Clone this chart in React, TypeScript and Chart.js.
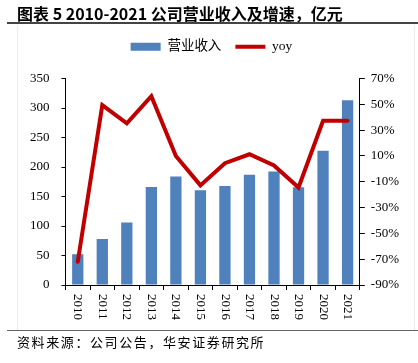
import React, { useEffect, useRef } from "react";
import { Chart, registerables } from "chart.js";

Chart.register(...registerables);

const years = ["2010", "2011", "2012", "2013", "2014", "2015", "2016", "2017", "2018", "2019", "2020", "2021"];
const revenue = [52, 78, 106, 166, 184, 160.5, 168, 187, 192.5, 165.5, 227.5, 313];
const yoy = [-72, 49.4, 35.2, 56.3, 10, -12.8, 4.4, 11.3, 2.6, -14.4, 37.3, 37.3];
const leftRange = { min: 0, max: 350, step: 50 };
const rightRange = { min: -90, max: 70, step: 20 };

const TITLE = "图表 5 2010-2021 公司营业收入及增速，亿元";
const SOURCE = "资料来源：公司公告，华安证券研究所";
const SERIES_REV = "营业收入";
const SERIES_YOY = "yoy";

const SERIF = "'Liberation Serif', 'Noto Sans CJK SC', serif";

const rotatedXLabels = {
  id: "rotatedXLabels",
  afterDraw(chart: any) {
    const scale = chart.scales.x;
    const ctx = chart.ctx;
    ctx.save();
    ctx.fillStyle = "#000";
    ctx.font = `13px ${SERIF}`;
    ctx.textAlign = "left";
    ctx.textBaseline = "middle";
    const y0 = scale.top + 9;
    scale.ticks.forEach((t: any, i: number) => {
      const x = scale.getPixelForTick(i);
      ctx.save();
      ctx.translate(x, y0);
      ctx.rotate(Math.PI / 2);
      ctx.fillText(String(chart.data.labels[i]), 0, 0);
      ctx.restore();
    });
    ctx.restore();
  },
};

const legendSpacer = {
  id: "legendSpacer",
  beforeInit(chart: any) {
    const legend = chart.legend;
    if (!legend) return;
    const orig = legend.fit;
    legend.fit = function () {
      orig.call(this);
      this.height += 15;
    };
  },
};

export default function App() {
  const ref = useRef<HTMLCanvasElement | null>(null);

  useEffect(() => {
    if (!ref.current) return;
    const chart = new Chart(ref.current, {
      type: "bar",
      data: {
        labels: years,
        datasets: [
          {
            type: "bar",
            label: SERIES_REV,
            data: revenue,
            backgroundColor: "#4F81BD",
            borderWidth: 0,
            barPercentage: 0.46,
            categoryPercentage: 1,
            yAxisID: "y",
            order: 1,
            pointStyle: "rect",
          } as any,
          {
            type: "line",
            label: SERIES_YOY,
            data: yoy,
            borderColor: "#C00000",
            backgroundColor: "#C00000",
            borderWidth: 4,
            pointRadius: 0,
            tension: 0,
            borderCapStyle: "round",
            borderJoinStyle: "miter",
            yAxisID: "y1",
            order: 0,
            pointStyle: "line",
          } as any,
        ],
      },
      options: {
        responsive: false,
        animation: false,
        devicePixelRatio: 1,
        layout: { padding: { top: 26, left: 18, right: 13, bottom: 43 } },
        plugins: {
          tooltip: { enabled: false },
          legend: {
            display: true,
            position: "top",
            labels: {
              usePointStyle: true,
              pointStyleWidth: 30,
              boxWidth: 30,
              boxHeight: 8,
              padding: 14,
              color: "#000",
              font: { size: 13.5, family: SERIF },
              sort: (a: any, b: any) => a.datasetIndex - b.datasetIndex,
            },
          },
        },
        scales: {
          x: {
            offset: true,
            grid: {
              offset: true,
              drawOnChartArea: false,
              drawTicks: true,
              tickLength: 5,
              color: "#000",
            },
            border: { display: true, color: "#000" },
            ticks: {
              color: "rgba(0,0,0,0)",
              font: { size: 13, family: SERIF },
              minRotation: 90,
              maxRotation: 90,
              autoSkip: false,
              padding: 2,
            },
          },
          y: {
            position: "left",
            min: leftRange.min,
            max: leftRange.max,
            grid: {
              drawOnChartArea: false,
              drawTicks: true,
              tickLength: 4,
              color: "#000",
            },
            border: { display: true, color: "#000" },
            ticks: {
              stepSize: leftRange.step,
              color: "#000",
              font: { size: 13, family: SERIF },
              padding: 12,
            },
          },
          y1: {
            position: "right",
            min: rightRange.min,
            max: rightRange.max,
            grid: {
              drawOnChartArea: false,
              drawTicks: true,
              tickLength: 5,
              color: "#000",
            },
            border: { display: true, color: "#000" },
            ticks: {
              stepSize: rightRange.step,
              color: "#000",
              font: { size: 13, family: SERIF },
              padding: 6,
              callback: (v: any) => `${v}%`,
            },
          },
        },
      },
      plugins: [rotatedXLabels, legendSpacer],
    });
    return () => chart.destroy();
  }, []);

  return (
    <div
      style={{
        position: "absolute",
        left: 0,
        top: 0,
        width: 418,
        height: 363,
        background: "#fff",
        overflow: "hidden",
      }}
    >
      <canvas
        ref={ref}
        width={418}
        height={363}
        style={{ position: "absolute", left: 0, top: 0, width: 418, height: 363 }}
      />
      <div
        style={{
          position: "absolute",
          left: 17,
          top: 3,
          fontFamily: "'Noto Sans CJK SC', sans-serif",
          fontWeight: "bold",
          fontSize: 16,
          lineHeight: "20px",
          color: "#000",
          whiteSpace: "nowrap",
        }}
      >
        {TITLE}
      </div>
      <div style={{ position: "absolute", left: 7, right: 0, top: 22, height: 2, background: "#444" }} />
      <div style={{ position: "absolute", left: 17, top: 25, width: 1, height: 305, background: "#ececec" }} />
      <div style={{ position: "absolute", left: 414, top: 25, width: 1, height: 305, background: "#ececec" }} />
      <div style={{ position: "absolute", left: 7, right: 0, top: 330, height: 1, background: "#666" }} />
      <div
        style={{
          position: "absolute",
          left: 17,
          top: 333,
          fontFamily: "'Noto Sans CJK SC', sans-serif",
          fontSize: 13,
          lineHeight: "17px",
          letterSpacing: 1.6,
          color: "#000",
          whiteSpace: "nowrap",
        }}
      >
        {SOURCE}
      </div>
    </div>
  );
}
